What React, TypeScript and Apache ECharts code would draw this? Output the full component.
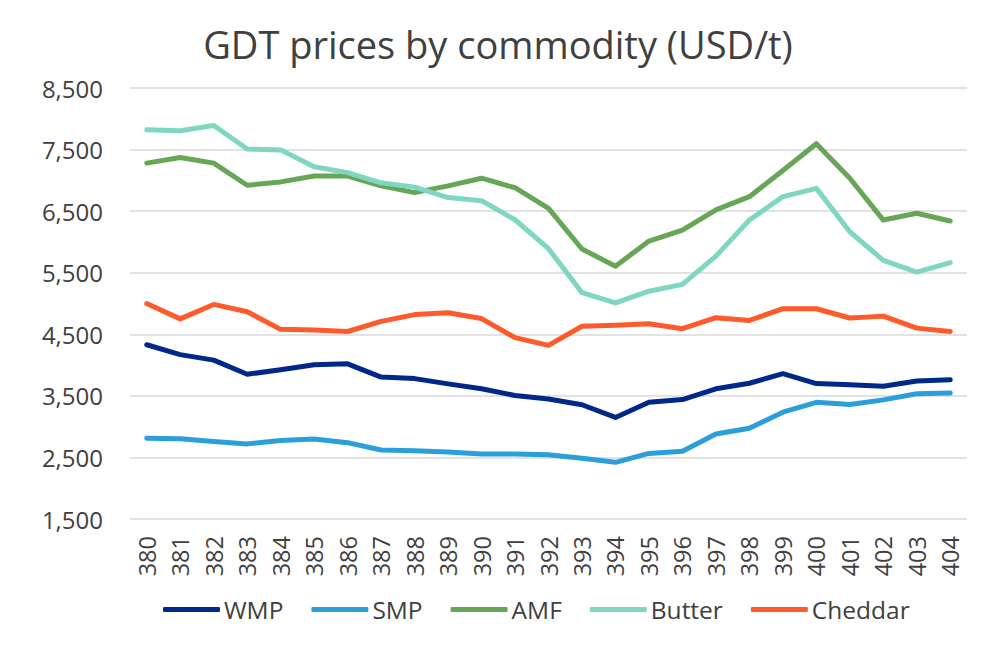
import React, { useEffect, useRef } from "react";
import * as echarts from "echarts";

const categories = ["380","381","382","383","384","385","386","387","388","389","390","391","392","393","394","395","396","397","398","399","400","401","402","403","404"];
const wmp = [4330,4170,4080,3850,3925,4005,4020,3805,3780,3695,3615,3505,3450,3355,3150,3395,3440,3615,3705,3860,3700,3680,3655,3740,3760];
const smp = [2810,2805,2760,2720,2775,2800,2740,2620,2610,2590,2555,2555,2545,2485,2420,2565,2600,2880,2975,3235,3395,3360,3435,3535,3545];
const amf = [7280,7370,7280,6920,6975,7070,7070,6910,6800,6910,7035,6880,6545,5885,5605,6015,6190,6520,6735,7160,7595,7035,6355,6465,6340];
const butter = [7820,7805,7890,7510,7495,7220,7125,6960,6890,6720,6670,6360,5890,5175,5010,5200,5310,5770,6355,6735,6870,6165,5700,5510,5665];
const cheddar = [5000,4750,4985,4865,4580,4570,4545,4710,4820,4850,4755,4445,4320,4630,4645,4670,4590,4770,4725,4915,4915,4765,4795,4600,4545];

const seriesDefs = [
  { name: "WMP", data: wmp, color: "#00288A" },
  { name: "SMP", data: smp, color: "#2B9FD9" },
  { name: "AMF", data: amf, color: "#67A656" },
  { name: "Butter", data: butter, color: "#7FD6C1" },
  { name: "Cheddar", data: cheddar, color: "#FF5A2C" },
];

const FONT = "'Open Sans', Lato, sans-serif";

export default function App() {
  const ref = useRef<HTMLDivElement>(null);
  useEffect(() => {
    if (!ref.current) return;
    const chart = echarts.init(ref.current, null, { renderer: "svg" });
    chart.setOption({
      animation: false,
      backgroundColor: "#ffffff",
      textStyle: { fontFamily: FONT },
      title: {
        text: "GDT prices by commodity (USD/t)",
        left: "center",
        top: 20,
        textStyle: { fontSize: 38, fontWeight: "normal", color: "#404040", fontFamily: FONT },
      },
      legend: {
        top: 592,
        left: 158,
        icon: "roundRect",
        itemWidth: 57,
        itemHeight: 5,
        itemGap: 28,
        textStyle: { fontSize: 24.5, color: "#404040", fontFamily: FONT, padding: [0, 0, 0, -1] },
        data: seriesDefs.map((s) => s.name),
      },
      grid: { left: 130, right: 29, top: 88, bottom: 131, containLabel: false },
      xAxis: {
        type: "category",
        data: categories,
        boundaryGap: true,
        axisLine: { show: false },
        axisTick: { show: false },
        axisLabel: { rotate: 90, fontSize: 23.5, color: "#404040", margin: 17, fontFamily: FONT },
      },
      yAxis: {
        type: "value",
        min: 1500,
        max: 8500,
        interval: 1000,
        axisLine: { show: false },
        axisTick: { show: false },
        splitLine: { lineStyle: { color: "#D9D9D9", width: 1.5 } },
        axisLabel: {
          fontSize: 24,
          color: "#404040",
          margin: 27,
          fontFamily: FONT,
          formatter: (v: number) => v.toLocaleString("en-US"),
        },
      },
      series: seriesDefs.map((s) => ({
        name: s.name,
        type: "line",
        data: s.data,
        symbol: "none",
        color: s.color,
        lineStyle: { width: 5, color: s.color, cap: "round", join: "round" },
      })),
    });
    return () => chart.dispose();
  }, []);
  return <div ref={ref} style={{ position: "absolute", left: 0, top: 0, width: 996, height: 650 }} />;
}
